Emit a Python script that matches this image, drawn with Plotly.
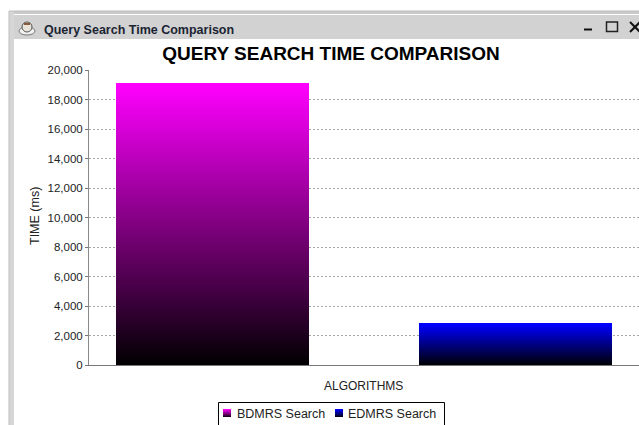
import plotly.graph_objects as go

W, H = 639, 425

categories = ["BDMRS Search", "EDMRS Search"]
search_time_ms = [19100, 2800]
top_colors = [(255, 0, 255), (0, 0, 255)]
y_ticks = list(range(0, 20001, 2000))

SLICES = 140
BAR_WIDTH = 0.636
FONT = "Liberation Sans"


def px(x):
    return x / W


def py(y):
    return 1 - y / H


def shade(rgb, t):
    return "rgb({},{},{})".format(*[round(c * t) for c in rgb])


fig = go.Figure()

# Each bar is a stack of thin slices fading from black up to the series colour
for name, value, rgb in zip(categories, search_time_ms, top_colors):
    fig.add_bar(
        x=[name] * SLICES,
        y=[value / SLICES] * SLICES,
        width=BAR_WIDTH,
        name=name,
        marker=dict(
            color=[shade(rgb, (i + 1) / SLICES) for i in range(SLICES)],
            line_width=0,
        ),
        showlegend=False,
        hoverinfo="skip",
    )

shapes = []


def rect(x0, y0, x1, y1, fill=None, line=None, width=1):
    shapes.append(dict(
        type="rect", xref="paper", yref="paper",
        x0=px(x0), x1=px(x1), y0=py(y0), y1=py(y1),
        fillcolor=fill or "rgba(0,0,0,0)",
        line=dict(color=line, width=width) if line else dict(width=0),
        layer="above",
    ))


def seg(x0, y0, x1, y1, color, width):
    shapes.append(dict(
        type="line", xref="paper", yref="paper",
        x0=px(x0), x1=px(x1), y0=py(y0), y1=py(y1),
        line=dict(color=color, width=width), layer="above",
    ))


# Window frame and title bar
rect(9, 11, W, 14, fill="#c9c9c9")
rect(9, 11, 14, H, fill="#d6d6d6")
rect(14, 15, W, 39, fill="#d2d2d2")
seg(9, 11, W, 11, "#bdbdbd", 1)
seg(9, 11, 9, H, "#bdbdbd", 1)

# Application icon: a small cup and saucer
shapes.append(dict(type="circle", xref="paper", yref="paper", layer="above",
                   x0=px(19), x1=px(35), y0=py(35), y1=py(27),
                   fillcolor="#f2f2f2", line=dict(color="#777777", width=1)))
shapes.append(dict(type="circle", xref="paper", yref="paper", layer="above",
                   x0=px(22), x1=px(32), y0=py(32), y1=py(22),
                   fillcolor="#e8e4dc", line=dict(color="#555555", width=1)))
rect(24, 23, 30, 25, fill="#8a5a3a")

# Window buttons
seg(584, 29.5, 592, 29.5, "#111111", 2)
rect(606.5, 22, 617.5, 31.5, line="#222222", width=1.5)
seg(630, 22, 640, 32, "#111111", 2)
seg(630, 32, 640, 22, "#111111", 2)

# Legend box with its gradient swatches
rect(218.5, 402.5, 444.5, 425.5, fill="white", line="#000000", width=1)
for left, rgb in zip((223, 335), top_colors):
    for row in range(8):
        rect(left, 409 + row, left + 8, 410 + row, fill=shade(rgb, 1 - row / 8))

annotations = [
    dict(text="<b>Query Search Time Comparison</b>", x=px(43), y=py(29.5),
         xanchor="left", font=dict(size=12.5, color="#1a2433")),
    dict(text=categories[0], x=px(236), y=py(414), xanchor="left",
         font=dict(size=12.5, color="#222222")),
    dict(text=categories[1], x=px(347), y=py(414), xanchor="left",
         font=dict(size=12.5, color="#222222")),
    dict(text="ALGORITHMS", x=px(363.5), y=py(386), xanchor="center",
         font=dict(size=12, color="#222222")),
    dict(text="TIME (ms)", x=px(35), y=py(216), textangle=-90, xanchor="center",
         font=dict(size=12.5, color="#222222")),
]
for a in annotations:
    a.update(xref="paper", yref="paper", showarrow=False, yanchor="middle",
             borderpad=0)

fig.update_layout(
    width=W, height=H,
    margin=dict(l=0, r=0, t=0, b=0, pad=0, autoexpand=False),
    paper_bgcolor="white", plot_bgcolor="white",
    barmode="stack", bargap=0,
    showlegend=False,
    font=dict(family=FONT, size=11, color="#222222"),
    title=dict(text="<b>QUERY SEARCH TIME COMPARISON</b>",
               x=px(331), y=py(53), xref="container", yref="container",
               xanchor="center", yanchor="middle",
               font=dict(size=19, color="#000000", family=FONT)),
    shapes=shapes,
    annotations=annotations,
)
fig.update_xaxes(
    domain=[px(89), 1],
    type="category",
    range=[-0.408, 1.408],
    showticklabels=False, ticks="",
    showgrid=False, showline=True, linecolor="#777777", linewidth=1,
    fixedrange=True,
)
fig.update_yaxes(
    domain=[py(365), py(70)],
    range=[0, 20000],
    tickvals=y_ticks, tickformat=",",
    ticks="outside", ticklen=3, tickcolor="#777777",
    tickfont=dict(size=11.5, color="#222222", family=FONT),
    showgrid=True, gridcolor="#a8a8a8", griddash="2px,2px", gridwidth=1,
    showline=True, linecolor="#888888", linewidth=1,
    zeroline=False, layer="above traces", fixedrange=True,
)

fig.write_html("out.html", config=dict(displayModeBar=False))
